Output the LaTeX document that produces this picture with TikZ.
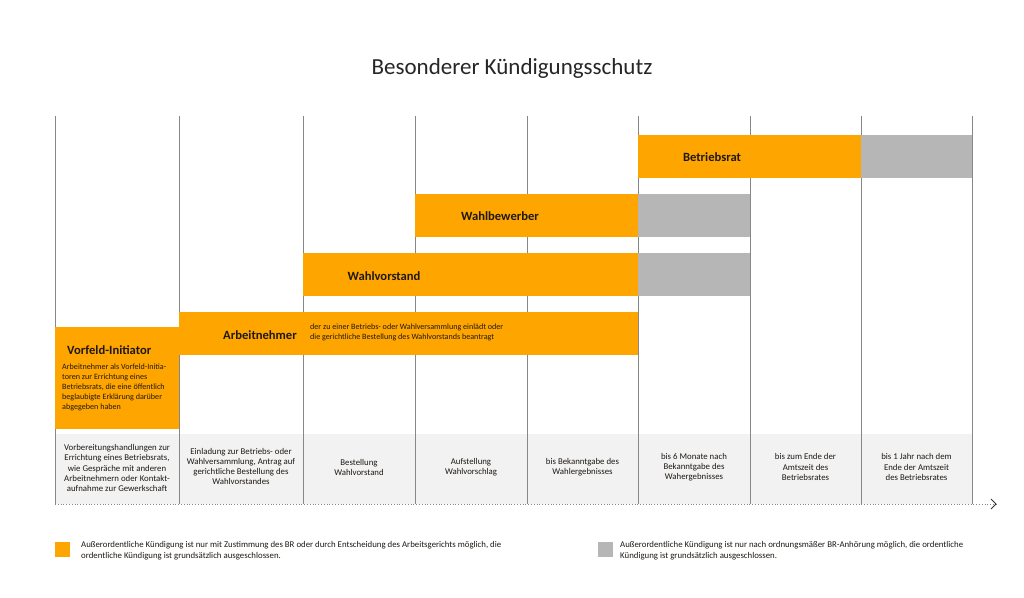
\documentclass[tikz,border=0pt]{standalone}
\usepackage{fontspec}
\setmainfont{Carlito}
\usetikzlibrary{arrows.meta}
\definecolor{bor}{RGB}{255,165,0}
\definecolor{bgr}{RGB}{182,182,182}
\definecolor{lgr}{RGB}{242,242,242}
\definecolor{vln}{RGB}{135,135,135}
\definecolor{txt}{RGB}{30,25,20}
\begin{document}
\begin{tikzpicture}[x=1pt,y=-1pt,
  obar/.style={fill=bor, draw=none, anchor=north west, inner sep=0pt, outer sep=0pt},
  gbar/.style={fill=bgr, draw=none, anchor=north west, inner sep=0pt, outer sep=0pt},
  lbl/.style={font=\fontsize{12.6}{14}\selectfont\bfseries, text=txt, inner sep=0pt},
  smalltxt/.style={font=\fontsize{8.1}{10}\selectfont, align=left, text=txt, inner sep=0pt, anchor=north west},
  cell/.style={font=\fontsize{8.8}{10.3}\selectfont, align=center, text=txt, inner sep=0pt},
  legtxt/.style={font=\fontsize{8.8}{10.5}\selectfont, align=left, text=txt, inner sep=0pt, anchor=west},
  vline/.style={draw=vln, line width=0.8pt},
]
\useasboundingbox[fill=white] (0,0) rectangle (1024,597);

% title
\node[font=\fontsize{23}{26}\selectfont, text=black!85] (title) at (512,68) {Besonderer Kündigungsschutz};

% bottom light grey band
\fill[lgr] (55,434) rectangle (972,504);

% vertical column lines
\foreach \x [count=\i] in {55,179,303,415,527,638,750,861,972} {
  \coordinate (t\i) at (\x,116);
  \coordinate (b\i) at (\x,504);
  \draw[vline] (t\i) -- (b\i);
}

% bars
\node[obar, minimum width=223pt, minimum height=43pt] (brO) at (638,135) {};
\node[gbar, minimum width=111pt, minimum height=43pt] (brG) at (861,135) {};
\node[obar, minimum width=223pt, minimum height=43pt] (wbO) at (415,194) {};
\node[gbar, minimum width=112pt, minimum height=43pt] (wbG) at (638,194) {};
\node[obar, minimum width=335pt, minimum height=43pt] (wvO) at (303,253) {};
\node[gbar, minimum width=112pt, minimum height=43pt] (wvG) at (638,253) {};
\node[obar, minimum width=459pt, minimum height=43pt] (anO) at (179,312) {};
\node[obar, minimum width=124pt, minimum height=102pt] (vfO) at (55,327) {};

% bar labels
\node[lbl] (brL) at (712,157) {Betriebsrat};
\node[lbl] (wbL) at (500,216) {Wahlbewerber};
\node[lbl] (wvL) at (384,276) {Wahlvorstand};
\node[lbl] (anL) at (260,335) {Arbeitnehmer};
\node[smalltxt] (anT) at (310,324) {der zu einer Betriebs- oder Wahlversammlung einlädt oder\\die gerichtliche Bestellung des Wahlvorstands beantragt};
\node[lbl, anchor=west] (vfL) at (67,350) {Vorfeld-Initiator};
\node[smalltxt] (vfT) at (62,363.5) {Arbeitnehmer als Vorfeld-Initia-\\toren zur Errichtung eines\\Betriebsrats, die eine öffentlich\\beglaubigte Erklärung darüber\\abgegeben haben};

% bottom cells
\node[cell] (c1) at (117,468) {Vorbereitungshandlungen zur\\Errichtung eines Betriebsrats,\\wie Gespräche mit anderen\\Arbeitnehmern oder Kontakt-\\aufnahme zur Gewerkschaft};
\node[cell] (c2) at (241,466.5) {Einladung zur Betriebs- oder\\Wahlversammlung, Antrag auf\\gerichtliche Bestellung des\\Wahlvorstandes};
\node[cell] (c3) at (359,467.5) {Bestellung\\Wahlvorstand};
\node[cell] (c4) at (471,467.5) {Aufstellung\\Wahlvorschlag};
\node[cell] (c5) at (582.5,467.5) {bis Bekanntgabe des\\Wahlergebnisses};
\node[cell] (c6) at (694,467) {bis 6 Monate nach\\Bekanntgabe des\\Wahergebnisses};
\node[cell] (c7) at (805.5,467) {bis zum Ende der\\Amtszeit des\\Betriebsrates};
\node[cell] (c8) at (916.5,467) {bis 1 Jahr nach dem\\Ende der Amtszeit\\des Betriebsrates};

% time axis
\coordinate (ax0) at (55,504);
\coordinate (ax1) at (996,504);
\draw[vln, line width=0.8pt, dotted] (ax0) -- (ax1);
\draw[black!80, line width=0.9pt] (991,499) -- (996,504) -- (991,509);

% legend
\node[fill=bor, minimum width=15pt, minimum height=15pt, inner sep=0pt, anchor=north west] (legO) at (55,542) {};
\node[legtxt] (legOT) at (81,550.5) {Außerordentliche Kündigung ist nur mit Zustimmung des BR oder durch Entscheidung des Arbeitsgerichts möglich, die\\ordentliche Kündigung ist grundsätzlich ausgeschlossen.};
\node[fill=bgr, minimum width=15pt, minimum height=15pt, inner sep=0pt, anchor=north west] (legG) at (598,542) {};
\node[legtxt] (legGT) at (620,550.5) {Außerordentliche Kündigung ist nur nach ordnungsmäßer BR-Anhörung möglich, die ordentliche\\Kündigung ist grundsätzlich ausgeschlossen.};
\end{tikzpicture}
\end{document}
